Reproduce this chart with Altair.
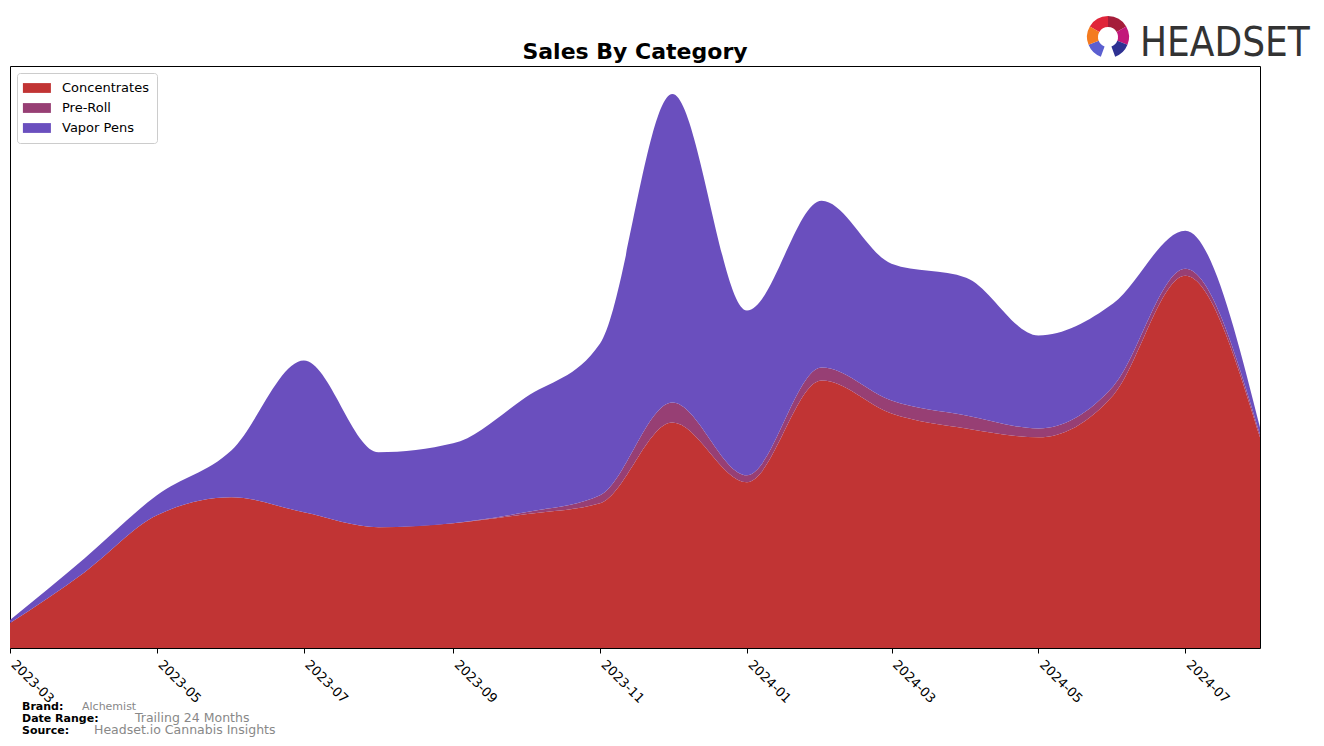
import altair as alt
import pandas as pd
import math

# ---- data ----
months = ["2023-03-01", "2023-04-01", "2023-05-01", "2023-06-01", "2023-07-01", "2023-08-01",
          "2023-09-01", "2023-10-01", "2023-11-01", "2023-12-01", "2024-01-01", "2024-02-01",
          "2024-03-01", "2024-04-01", "2024-05-01", "2024-06-01", "2024-07-01", "2024-08-01"]
concentrates = [25, 76, 133, 151, 136, 121, 125, 134, 145, 226, 166, 268, 235, 220, 211, 253, 373, 211]
pre_roll = [0, 0, 0, 0, 0, 0, 0, 2, 8, 20, 7, 13, 13, 13, 9, 9, 7, 3]
vapor_pens = [3, 14, 20, 47, 152, 75, 80, 115, 152, 309, 165, 167, 137, 138, 93, 83, 38, 7]

categories = ["Concentrates", "Pre-Roll", "Vapor Pens"]
colors = ["#C13434", "#973F74", "#6A4FBE"]
tick_months = ["2023-03", "2023-05", "2023-07", "2023-09", "2023-11",
               "2024-01", "2024-03", "2024-05", "2024-07"]

title_text = "Sales By Category"
footer_labels = ["Brand:", "Date Range:", "Source:"]
footer_values = ["Alchemist", "Trailing 24 Months", "Headset.io Cannabis Insights"]

rows = []
for series, vals in zip(categories, [concentrates, pre_roll, vapor_pens]):
    for m, v in zip(months, vals):
        rows.append({"month": m, "category": series, "value": v, "ord": categories.index(series)})
df = pd.DataFrame(rows)

W, H = 1250, 582
FONT = "DejaVu Sans"

tick_values = [alt.DateTime(year=int(t[:4]), month=int(t[5:]), date=1, utc=True) for t in tick_months]

area = alt.Chart(df).mark_area(interpolate="monotone").encode(
    x=alt.X("month:T",
            scale=alt.Scale(type="utc", nice=False, padding=0,
                            domain=[alt.DateTime(year=2023, month=3, date=1, utc=True),
                                    alt.DateTime(year=2024, month=8, date=1, utc=True)]),
            axis=alt.Axis(values=tick_values, labelExpr="utcFormat(datum.value, '%Y-%m')",
                          title=None,
                          labelAngle=45, labelAlign="left", labelBaseline="alphabetic",
                          labelFont=FONT, labelFontSize=13, labelColor="black",
                          tickColor="black", tickSize=5, labelPadding=12,
                          domain=False, grid=False, labelOverlap=False, labelFlush=False)),
    y=alt.Y("value:Q", stack="zero", scale=alt.Scale(domain=[0, 583], nice=False, zero=True),
            axis=None),
    color=alt.Color("category:N",
                    scale=alt.Scale(domain=categories, range=colors),
                    legend=alt.Legend(title=None, orient="none", legendX=7, legendY=7,
                                      symbolType="M-1.3,-0.7H2.7V0.7H-1.3Z", symbolSize=196,
                                      symbolStrokeWidth=0, symbolOpacity=1,
                                      labelFont=FONT, labelFontSize=13, labelColor="black",
                                      labelOffset=23, rowPadding=6,
                                      strokeColor="#cccccc", fillColor="white",
                                      cornerRadius=3, padding=8)),
    order=alt.Order("ord:Q", sort="ascending"),
)

one = pd.DataFrame({"a": [0]})

def txt(t, x, y, size, weight="normal", color="black", align="left", font=FONT):
    return alt.Chart(one).mark_text(text=t, fontSize=size, fontWeight=weight, color=color,
                                    align=align, baseline="alphabetic", font=font).encode(
        x=alt.value(x), y=alt.value(y))

layers = [area]
layers.append(txt(title_text, 625, -7, 22, weight="bold", align="center"))
layers.append(txt(footer_labels[0], 12, 644, 11, weight="bold"))
layers.append(txt(footer_labels[1], 12, 656, 11, weight="bold"))
layers.append(txt(footer_labels[2], 12, 668, 11, weight="bold"))
layers.append(txt(footer_values[0], 72, 644, 11, color="#888888"))
layers.append(txt(footer_values[1], 125, 656, 12.5, color="#888888"))
layers.append(txt(footer_values[2], 84, 668, 12.5, color="#888888"))

# Headset logo
layers.append(txt("HEADSET", 1130, -10, 40, color="#333333", font="DejaVu Sans Condensed"))
logo_parts = [(300, 360, "#E0253A"), (0, 60, "#A51D3A"), (60, 112, "#C2187A"),
              (112, 160, "#2E3192"), (200, 248, "#5B5FD0"), (248, 300, "#F47B20")]
for a0, a1, c in logo_parts:
    layers.append(alt.Chart(one).mark_arc(theta=math.radians(a0), theta2=math.radians(a1),
                                          radius=21, radius2=10, color=c).encode(
        x=alt.value(1098), y=alt.value(-29)))

chart = alt.layer(*layers).properties(
    width=W, height=H,
    padding={"left": 10, "top": 66, "right": 64, "bottom": 98},
    autosize=alt.AutoSizeParams(type="none"),
).configure(background="white").configure_view(stroke="black", strokeWidth=1)

chart.save("out.html", embed_options={"renderer": "svg", "actions": False})
